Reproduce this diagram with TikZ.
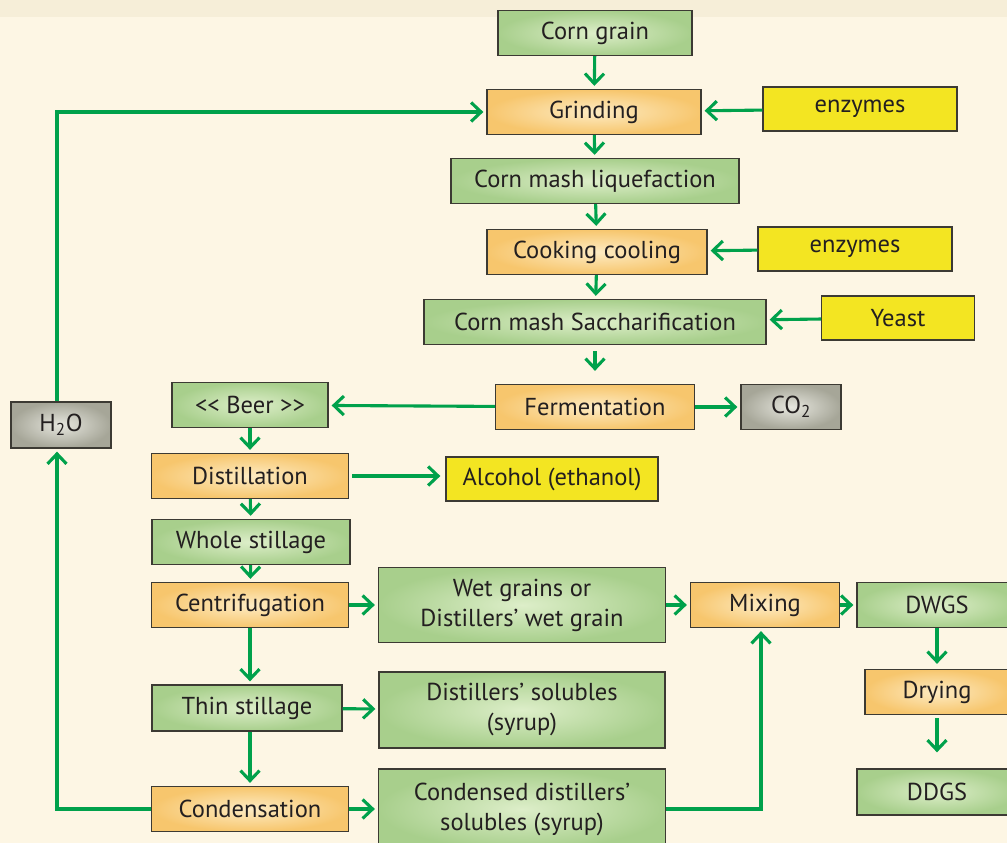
\documentclass[tikz,border=0pt]{standalone}
\usepackage{fontspec}
\setmainfont{PT Sans}
\usetikzlibrary{arrows.meta}

\definecolor{bgcream}{HTML}{FDF6E4}
\definecolor{topstrip}{HTML}{F6EED8}
\definecolor{grnin}{HTML}{DDEEC9}
\definecolor{grnout}{HTML}{A8CF8C}
\definecolor{orgin}{HTML}{FDEBC3}
\definecolor{orgout}{HTML}{F7C66D}
\definecolor{grayin}{HTML}{E6E6DE}
\definecolor{grayout}{HTML}{A6A698}
\definecolor{yelbox}{HTML}{F3E522}
\definecolor{boxline}{HTML}{3C3A33}
\definecolor{flowgreen}{HTML}{00A14B}
\definecolor{txt}{HTML}{231F20}

\tikzset{
	box/.style={draw=boxline, line width=1.3pt, minimum height=45, inner sep=0pt,
		align=center, text=txt, font=\fontsize{24.5}{30}\selectfont},
	greenbox/.style={box, inner color=grnin, outer color=grnout},
	orangebox/.style={box, inner color=orgin, outer color=orgout},
	graybox/.style={box, inner color=grayin, outer color=grayout},
	yellowbox/.style={box, fill=yelbox},
	flow/.style={draw=flowgreen, line width=3.1pt,
		-{Straight Barb[length=10pt, width=19pt]}, shorten >=3pt}
}

\begin{document}
\begin{tikzpicture}[x=1pt, y=-1pt]
	% background
	\fill[bgcream] (0,0) rectangle (1007,843);
	\fill[topstrip] (0,0) rectangle (1007,17);
	\useasboundingbox (0,0) rectangle (1007,843);

	% main line
	\node[greenbox, minimum width=194] (corn) at (595,33) {Corn grain};
	\node[orangebox, minimum width=214] (grind) at (594,112) {Grinding};
	\node[yellowbox, minimum width=194, minimum height=44] (enz1) at (860,109) {enzymes};
	\node[greenbox, minimum width=288] (liq) at (595,181) {Corn mash liquefaction};
	\node[orangebox, minimum width=220] (cook) at (597,252) {Cooking cooling};
	\node[yellowbox, minimum width=194, minimum height=44] (enz2) at (855,249) {enzymes};
	\node[greenbox, minimum width=342] (sacch) at (595,322) {Corn mash Saccharification};
	\node[yellowbox, minimum width=153, minimum height=44] (yeast) at (898,318) {Yeast};
	\node[orangebox, minimum width=199] (ferm) at (595,407) {Fermentation};
	\node[graybox, minimum width=100] (co2) at (791,407) {CO\textsubscript{2}};

	% left column
	\node[greenbox, minimum width=156] (beer) at (250,405) {<{}< Beer >{}>};
	\node[graybox, minimum width=100, minimum height=46] (h2o) at (61,425) {H\textsubscript{2}O};
	\node[orangebox, minimum width=197] (dist) at (250,476) {Distillation};
	\node[yellowbox, minimum width=212, minimum height=44] (alc) at (552,479) {Alcohol (ethanol)};
	\node[greenbox, minimum width=198] (whole) at (251,542) {Whole stillage};
	\node[orangebox, minimum width=197] (centr) at (250,605) {Centrifugation};
	\node[greenbox, minimum width=190, minimum height=46] (thin) at (247,708) {Thin stillage};
	\node[orangebox, minimum width=197] (condens) at (250,809) {Condensation};

	% middle column
	\node[greenbox, minimum width=287, minimum height=75] (wet) at (522,605) {Wet grains or\\Distillers’ wet grain};
	\node[greenbox, minimum width=286, minimum height=76] (sol) at (522,710) {Distillers’ solubles\\(syrup)};
	\node[greenbox, minimum width=287, minimum height=80] (csol) at (522,809) {Condensed distillers’\\solubles (syrup)};

	% right column
	\node[orangebox, minimum width=149] (mix) at (765,605) {Mixing};
	\node[greenbox, minimum width=160] (dwgs) at (937,605) {DWGS};
	\node[orangebox, minimum width=144] (dry) at (937,692) {Drying};
	\node[greenbox, minimum width=160, minimum height=46] (ddgs) at (937,792) {DDGS};

	% connectors
	\draw[flow] (corn) -- (grind);
	\draw[flow] (enz1) -- (grind);
	\draw[flow] (grind) -- (liq);
	\draw[flow] (liq) -- (cook);
	\draw[flow] (enz2) -- (cook);
	\draw[flow] (cook) -- (sacch);
	\draw[flow] (yeast) -- (sacch);
	\draw[flow, shorten <=6pt, shorten >=13pt] (sacch) -- (ferm);
	\draw[flow] (ferm) -- (beer);
	\draw[flow] (ferm) -- (co2);
	\draw[flow] (beer) -- (dist);
	\draw[flow, shorten <=3pt, shorten >=5pt] (dist.east) -- (alc.west |- dist.east);
	\draw[flow] (dist) -- (whole);
	\draw[flow] (whole) -- (centr);
	\draw[flow] (centr) -- (wet);
	\draw[flow] (wet) -- (mix);
	\draw[flow] (mix) -- (dwgs);
	\draw[flow, shorten >=5pt] (dwgs) -- (dry);
	\draw[flow, shorten <=3pt, shorten >=16pt] (dry) -- (ddgs);
	\draw[flow] (centr) -- (centr |- thin.north);
	\draw[flow] (thin) -- (sol);
	\draw[flow] (thin.south -| centr) -- (condens);
	\draw[flow] (condens) -- (csol);
	\draw[flow] (csol.east) -| ([xshift=-4pt]mix.south);
	\draw[flow] (condens.west) -| ([xshift=-4pt]h2o.south);
	\draw[flow] ([xshift=-4pt]h2o.north) |- (grind.west);
\end{tikzpicture}
\end{document}
